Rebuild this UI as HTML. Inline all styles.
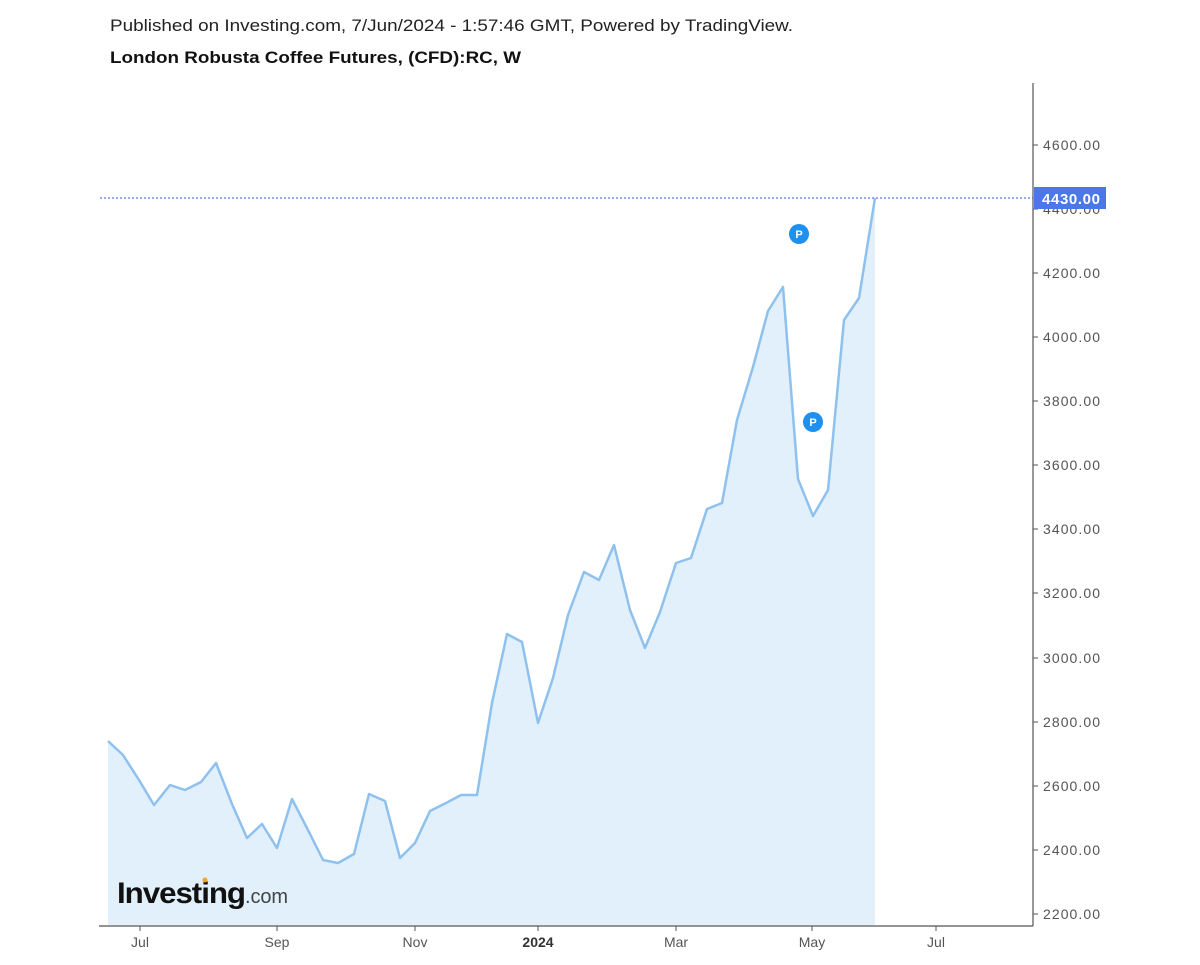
<!DOCTYPE html>
<html><head><meta charset="utf-8"><style>
body{margin:0;background:#fff;font-family:"Liberation Sans",Arial,sans-serif;}
</style></head><body>
<svg width="1200" height="960" xmlns="http://www.w3.org/2000/svg" font-family="Liberation Sans, Arial, sans-serif">
<rect width="1200" height="960" fill="#fff"/>
<text x="110" y="31" font-size="17" fill="#222" textLength="683" lengthAdjust="spacingAndGlyphs">Published on Investing.com, 7/Jun/2024 - 1:57:46 GMT, Powered by TradingView.</text>
<text x="110" y="63" font-size="17" font-weight="bold" fill="#111" textLength="411" lengthAdjust="spacingAndGlyphs">London Robusta Coffee Futures, (CFD):RC, W</text>
<polygon fill="#e1f0fa" points="108,925 108,741 123,755 139,780 154,805 170,785 185,790 201,782 216,763 232,804 247,838 262,824 277,848 292,799 308,830 323,860 338,863 354,854 369,794 385,801 400,858 415,843 430,811 446,803 461,795 477,795 492,703 507,634 522,642 538,723 553,678 568,615 584,572 599,580 614,545 630,610 645,648 660,612 676,563 691,558 707,509 722,503 737,420 753,367 768,311 783,287 798,479 813,516 828,490 844,320 859,298 875,198 875,925"/>
<polyline fill="none" stroke="#8fc1ee" stroke-width="2.5" stroke-linejoin="round" points="108,741 123,755 139,780 154,805 170,785 185,790 201,782 216,763 232,804 247,838 262,824 277,848 292,799 308,830 323,860 338,863 354,854 369,794 385,801 400,858 415,843 430,811 446,803 461,795 477,795 492,703 507,634 522,642 538,723 553,678 568,615 584,572 599,580 614,545 630,610 645,648 660,612 676,563 691,558 707,509 722,503 737,420 753,367 768,311 783,287 798,479 813,516 828,490 844,320 859,298 875,198"/>
<line x1="100" y1="198" x2="1033" y2="198" stroke="#3355dd" stroke-width="1" stroke-dasharray="2,2"/>
<g fill="#1e90f0"><circle cx="799" cy="234" r="10"/><circle cx="813" cy="422" r="10"/></g>
<g fill="#fff" font-size="11" font-weight="bold" text-anchor="middle"><text x="799" y="238">P</text><text x="813" y="426">P</text></g>
<line x1="1033" y1="83" x2="1033" y2="926" stroke="#555" stroke-width="1.2"/>
<line x1="99" y1="926" x2="1033" y2="926" stroke="#555" stroke-width="1.2"/>
<g stroke="#555">
<line x1="1033" y1="145" x2="1038" y2="145"/><line x1="1033" y1="209" x2="1038" y2="209"/><line x1="1033" y1="273" x2="1038" y2="273"/><line x1="1033" y1="337" x2="1038" y2="337"/><line x1="1033" y1="401" x2="1038" y2="401"/><line x1="1033" y1="465" x2="1038" y2="465"/><line x1="1033" y1="529" x2="1038" y2="529"/><line x1="1033" y1="593" x2="1038" y2="593"/><line x1="1033" y1="658" x2="1038" y2="658"/><line x1="1033" y1="722" x2="1038" y2="722"/><line x1="1033" y1="786" x2="1038" y2="786"/><line x1="1033" y1="850" x2="1038" y2="850"/><line x1="1033" y1="914" x2="1038" y2="914"/>
<line x1="140" y1="926" x2="140" y2="931"/><line x1="277" y1="926" x2="277" y2="931"/><line x1="415" y1="926" x2="415" y2="931"/><line x1="538" y1="926" x2="538" y2="931"/><line x1="676" y1="926" x2="676" y2="931"/><line x1="812" y1="926" x2="812" y2="931"/><line x1="936" y1="926" x2="936" y2="931"/>
</g>
<g font-size="14" fill="#555">
<text x="1043" y="150" textLength="57">4600.00</text><text x="1043" y="214" textLength="57">4400.00</text><text x="1043" y="278" textLength="57">4200.00</text><text x="1043" y="342" textLength="57">4000.00</text><text x="1043" y="406" textLength="57">3800.00</text><text x="1043" y="470" textLength="57">3600.00</text><text x="1043" y="534" textLength="57">3400.00</text><text x="1043" y="598" textLength="57">3200.00</text><text x="1043" y="663" textLength="57">3000.00</text><text x="1043" y="727" textLength="57">2800.00</text><text x="1043" y="791" textLength="57">2600.00</text><text x="1043" y="855" textLength="57">2400.00</text><text x="1043" y="919" textLength="57">2200.00</text>
</g>
<rect x="1034" y="187" width="72" height="22" fill="#4a78e6"/>
<text x="1042" y="204" font-size="15" font-weight="bold" fill="#fff" textLength="58">4430.00</text>
<g font-size="14" fill="#555" text-anchor="middle">
<text x="140" y="947">Jul</text><text x="277" y="947">Sep</text><text x="415" y="947">Nov</text><text x="538" y="947" font-weight="bold" fill="#333">2024</text><text x="676" y="947">Mar</text><text x="812" y="947">May</text><text x="936" y="947">Jul</text>
</g>
<text x="117" y="903" font-size="30" font-weight="bold" fill="#111" letter-spacing="-1" textLength="128" lengthAdjust="spacingAndGlyphs">Investing</text>
<text x="245" y="903" font-size="20" fill="#444" textLength="43">.com</text>
<circle cx="205" cy="880" r="2.5" fill="#f5a623"/>
</svg>
</body></html>
